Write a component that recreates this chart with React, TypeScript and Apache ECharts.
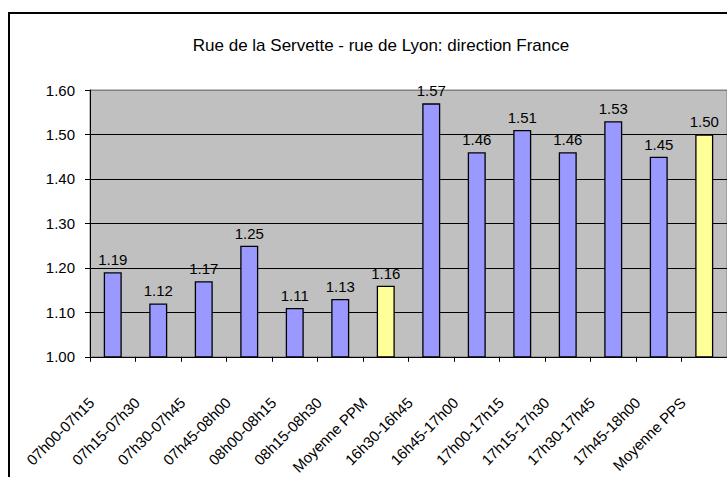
import React, { useEffect, useRef } from "react";
import * as echarts from "echarts";

const titleText = "Rue de la Servette - rue de Lyon: direction France";
const categories = [
  "07h00-07h15",
  "07h15-07h30",
  "07h30-07h45",
  "07h45-08h00",
  "08h00-08h15",
  "08h15-08h30",
  "Moyenne PPM",
  "16h30-16h45",
  "16h45-17h00",
  "17h00-17h15",
  "17h15-17h30",
  "17h30-17h45",
  "17h45-18h00",
  "Moyenne PPS",
];
const values = [1.19, 1.12, 1.17, 1.25, 1.11, 1.13, 1.16, 1.57, 1.46, 1.51, 1.46, 1.53, 1.45, 1.5];
const averageCategories = ["Moyenne PPM", "Moyenne PPS"];
const yMin = 1.0;
const yMax = 1.6;
const yStep = 0.1;

const FONT = "'Liberation Sans', Arial, sans-serif";

export default function App() {
  const ref = useRef<HTMLDivElement>(null);
  useEffect(() => {
    if (!ref.current) return;
    const chart = echarts.init(ref.current, undefined, { renderer: "svg" });
    const splitColors = ["#000000", "#000000", "#000000", "#000000", "#000000", "#000000", "#808080"];
    chart.setOption({
      animation: false,
      backgroundColor: "#ffffff",
      title: {
        text: titleText,
        left: 376,
        top: 32,
        textAlign: "center",
        textStyle: { fontFamily: FONT, fontSize: 17, fontWeight: "normal", color: "#000" },
      },
      graphic: [
        {
          type: "rect",
          z: -10,
          shape: { x: 9, y: 13, width: 760, height: 520 },
          style: { fill: "none", stroke: "#000", lineWidth: 2 },
        },
      ],
      grid: {
        left: 90,
        top: 90,
        width: 643,
        height: 269,
        show: true,
        backgroundColor: "#C0C0C0",
        borderColor: "#808080",
        borderWidth: 1,
        containLabel: false,
      },
      xAxis: {
        type: "category",
        data: categories,
        axisLine: { show: true, lineStyle: { color: "#000", width: 1 } },
        axisTick: { show: true, length: 5, lineStyle: { color: "#000" } },
        axisLabel: {
          interval: 0,
          rotate: 45,
          margin: 22,
          padding: [0, 30, 0, 0],
          fontFamily: FONT,
          fontSize: 15,
          color: "#000",
        },
      },
      yAxis: {
        type: "value",
        min: yMin,
        max: yMax,
        interval: yStep,
        axisLine: { show: true, lineStyle: { color: "#000", width: 1 } },
        axisTick: { show: true, length: 5, lineStyle: { color: "#000" } },
        axisLabel: {
          margin: 15,
          fontFamily: FONT,
          fontSize: 15,
          color: "#000",
          formatter: (v: number) => v.toFixed(2),
        },
        splitLine: { show: true, lineStyle: { color: splitColors, width: 1 } },
      },
      series: [
        {
          type: "bar",
          barWidth: 18,
          data: values.map((v, i) => ({
            value: v,
            itemStyle: {
              color: averageCategories.includes(categories[i]) ? "#FFFF99" : "#9999FF",
              borderColor: "#000",
              borderWidth: 1.3,
            },
          })),
          label: {
            show: true,
            position: "top",
            distance: 5,
            fontFamily: FONT,
            fontSize: 15,
            color: "#000",
            formatter: (p: any) => Number(p.value).toFixed(2),
          },
        },
      ],
    });
    return () => chart.dispose();
  }, []);
  return (
    <div
      ref={ref}
      style={{ position: "fixed", left: 0, top: 0, width: 727, height: 477, background: "#fff" }}
    />
  );
}
